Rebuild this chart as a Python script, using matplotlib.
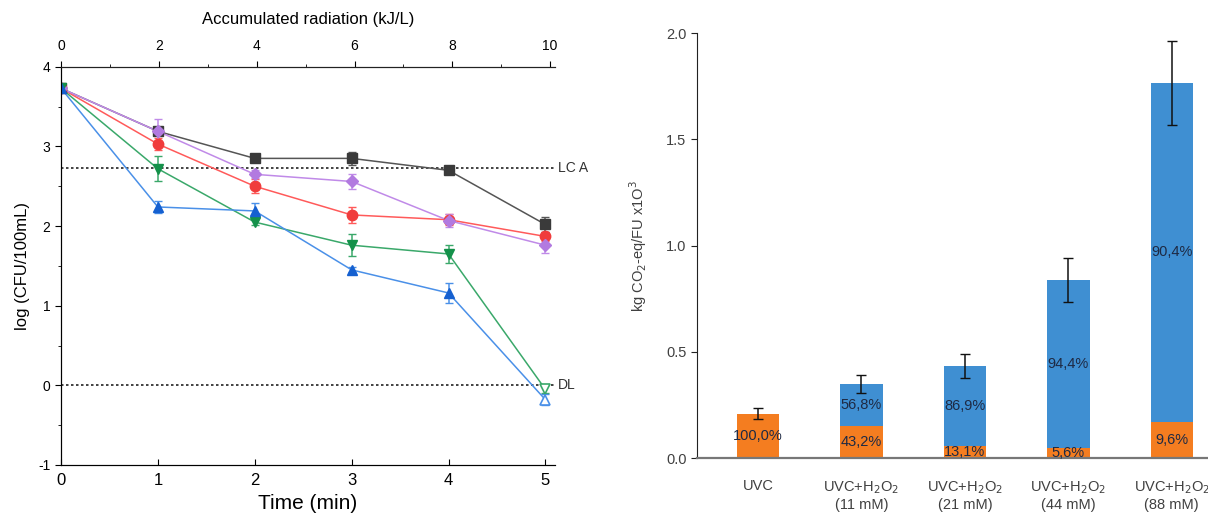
import matplotlib.pyplot as plt
import numpy as np

plt.rcParams['font.family'] = ['Liberation Sans', 'DejaVu Sans']
plt.rcParams['axes.unicode_minus'] = False

# left panel: inactivation curves
time_min = [0, 1, 2, 3, 4, 5]
black_y = [3.73, 3.19, 2.85, 2.85, 2.70, 2.02]
black_err = [0.03, 0.05, 0.04, 0.08, 0.04, 0.10]
red_y = [3.73, 3.03, 2.50, 2.14, 2.08, 1.87]
red_err = [0.03, 0.08, 0.09, 0.10, 0.07, 0.06]
purple_y = [3.73, 3.19, 2.65, 2.56, 2.07, 1.76]
purple_err = [0.03, 0.15, 0.05, 0.10, 0.08, 0.10]
green_y = [3.73, 2.72, 2.05, 1.76, 1.65, -0.05]
green_err = [0.03, 0.16, 0.04, 0.14, 0.11, 0.05]
blue_y = [3.73, 2.24, 2.19, 1.45, 1.16, -0.18]
blue_err = [0.03, 0.08, 0.10, 0.03, 0.13, 0.07]
lca_level = 2.73
dl_level = 0.0

# right panel: carbon footprint
bar_labels = ['UVC', 'UVC+H$_2$O$_2$\n(11 mM)', 'UVC+H$_2$O$_2$\n(21 mM)',
              'UVC+H$_2$O$_2$\n(44 mM)', 'UVC+H$_2$O$_2$\n(88 mM)']
bar_total = [0.21, 0.347, 0.434, 0.838, 1.766]
bar_err = [0.028, 0.042, 0.055, 0.105, 0.198]
orange_pct = [100.0, 43.2, 13.1, 5.6, 9.6]
blue_pct = [0.0, 56.8, 86.9, 94.4, 90.4]

fig = plt.figure(figsize=(12.08, 5.26), dpi=100)

ax = fig.add_axes([0.0505, 0.116, 0.409, 0.757])
series = [
    (black_y, black_err, '#555555', '#3a3a3a', 's', 6.5),
    (red_y, red_err, '#ff5a5a', '#f03c3c', 'o', 7.5),
    (purple_y, purple_err, '#c08ae8', '#b27ae0', 'D', 6.5),
    (green_y, green_err, '#3aa86a', '#14914a', 'v', 7.5),
    (blue_y, blue_err, '#4a90e8', '#1560d0', '^', 7.5),
]
for y, e, lc, mc, m, ms in series:
    ax.plot(time_min, y, color=lc, lw=1.1, zorder=2)
    ax.errorbar(time_min, y, yerr=e, fmt='none', ecolor=lc, elinewidth=1.1,
                capsize=3, zorder=3)
    open_last = m in ('v', '^')
    n = len(time_min) - 1 if open_last else len(time_min)
    ax.plot(time_min[:n], y[:n], ls='none', marker=m, ms=ms, color=mc, zorder=4)
    if open_last:
        ax.plot(time_min[-1:], y[-1:], ls='none', marker=m, ms=ms, mfc='white',
                mec=lc, mew=1.2, zorder=4)

ax.axhline(lca_level, color='#222222', ls=(0, (1.5, 1.5)), lw=1.2, zorder=1)
ax.axhline(dl_level, color='#222222', ls=(0, (1.5, 1.5)), lw=1.2, zorder=1)
ax.text(5.13, lca_level, 'LC A', va='center', ha='left', fontsize=10, color='#333333')
ax.text(5.13, dl_level, 'DL', va='center', ha='left', fontsize=10, color='#333333')

ax.set_xlim(0, 5.1)
ax.set_ylim(-1, 4)
ax.set_xticks(time_min)
ax.set_yticks([-1, 0, 1, 2, 3, 4])
ax.set_yticks(np.arange(-0.5, 4, 1), minor=True)
ax.tick_params(axis='x', direction='in', length=4, labelsize=12, pad=6)
ax.tick_params(axis='y', direction='out', length=4, labelsize=10)
ax.tick_params(axis='y', which='minor', direction='out', length=2.5)
ax.spines['right'].set_visible(False)
for s in ax.spines.values():
    s.set_color('#222222')
ax.set_xlabel('Time (min)', fontsize=15, labelpad=4)
ax.set_ylabel('log (CFU/100mL)', fontsize=12, labelpad=6)

top = ax.twiny()
top.set_xlim(0, 10.1)
top.set_xticks([0, 2, 4, 6, 8, 10])
top.set_xticks([1, 3, 5, 7, 9], minor=True)
top.tick_params(axis='x', direction='out', length=4, labelsize=10, pad=6)
top.tick_params(axis='x', which='minor', direction='out', length=2.5)
top.spines['right'].set_visible(False)
top.spines['top'].set_color('#222222')
top.set_xlabel('Accumulated radiation (kJ/L)', fontsize=12, labelpad=11)

# right panel
bx = fig.add_axes([0.577, 0.129, 0.423, 0.808])
pos = np.arange(len(bar_labels))
orange_h = [t * p / 100 for t, p in zip(bar_total, orange_pct)]
blue_h = [t - o for t, o in zip(bar_total, orange_h)]
bw = 0.41
bx.bar(pos, orange_h, width=bw, color='#f47d20', zorder=2)
bx.bar(pos, blue_h, bottom=orange_h, width=bw, color='#3f8fd2', zorder=2)
bx.errorbar(pos, bar_total, yerr=bar_err, fmt='none', ecolor='#111111',
            elinewidth=1.1, capsize=3.5, zorder=3)

txt = '#1e2a44'
for i in range(len(pos)):
    o = orange_h[i]
    bx.text(pos[i], max(o / 2, 0.022), f'{orange_pct[i]:.1f}%'.replace('.', ','),
            ha='center', va='center', fontsize=10.5, color=txt, zorder=4)
    if blue_pct[i] > 0:
        bx.text(pos[i], o + blue_h[i] / 2, f'{blue_pct[i]:.1f}%'.replace('.', ','),
                ha='center', va='center', fontsize=10.5, color=txt, zorder=4)

bx.set_xlim(-0.59, 4.35)
bx.set_ylim(0, 2.0)
bx.set_yticks([0, 0.5, 1.0, 1.5, 2.0])
bx.set_yticklabels(['0.0', '0.5', '1.0', '1.5', '2.0'])
bx.set_xticks(pos)
bx.set_xticklabels(bar_labels, fontsize=10.5, color='#404040')
bx.tick_params(axis='x', length=0, pad=15)
bx.tick_params(axis='y', direction='out', length=4, labelsize=10.5,
               labelcolor='#404040', color='#222222')
for s in ['top', 'right']:
    bx.spines[s].set_visible(False)
bx.spines['left'].set_color('#222222')
bx.spines['bottom'].set_color('#777777')
bx.spines['bottom'].set_linewidth(1.6)
bx.set_ylabel('kg CO$_2$-eq/FU x1O$^3$', fontsize=10.5, color='#404040', labelpad=12)

fig.savefig('out.png', dpi=100)
